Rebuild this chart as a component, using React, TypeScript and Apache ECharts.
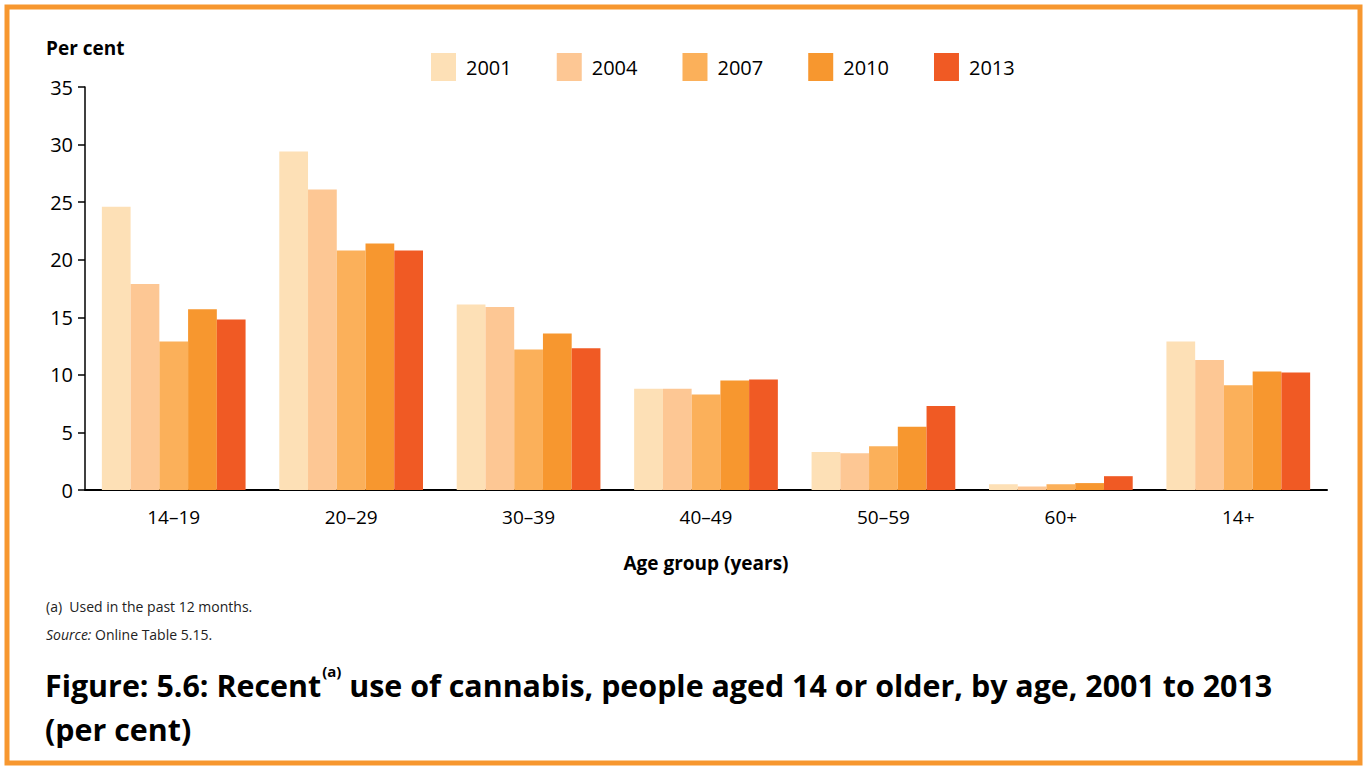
import React, { useEffect, useRef } from "react";
import * as echarts from "echarts";

const categories = ["14–19", "20–29", "30–39", "40–49", "50–59", "60+", "14+"];
const years = ["2001", "2004", "2007", "2010", "2013"];
const v2001 = [24.6, 29.4, 16.1, 8.8, 3.3, 0.5, 12.9];
const v2004 = [17.9, 26.1, 15.9, 8.8, 3.2, 0.3, 11.3];
const v2007 = [12.9, 20.8, 12.2, 8.3, 3.8, 0.5, 9.1];
const v2010 = [15.7, 21.4, 13.6, 9.5, 5.5, 0.6, 10.3];
const v2013 = [14.8, 20.8, 12.3, 9.6, 7.3, 1.2, 10.2];
const seriesValues = [v2001, v2004, v2007, v2010, v2013];
const colors = ["#FDE0B6", "#FDC794", "#FBB05A", "#F7972F", "#F05A24"];
const yTicks = [0, 5, 10, 15, 20, 25, 30, 35];

const FONT = "'Open Sans', sans-serif";

export default function App() {
  const ref = useRef<HTMLDivElement>(null);
  useEffect(() => {
    if (!ref.current) return;
    const chart = echarts.init(ref.current, null, { renderer: "svg" });
    chart.setOption({
      animation: false,
      backgroundColor: "#ffffff",
      textStyle: { fontFamily: FONT, color: "#000" },
      title: [
        {
          text: "Per cent",
          left: 41,
          top: 33,
          textStyle: { fontFamily: FONT, fontSize: 19, fontWeight: "bold", color: "#000" },
        },
        {
          text: "(a)  Used in the past 12 months.",
          left: 41,
          top: 594,
          textStyle: { fontFamily: FONT, fontSize: 14, fontWeight: "normal", color: "#222" },
        },
        {
          text: "{i|Source:} {n|Online Table 5.15.}",
          left: 41,
          top: 622,
          textStyle: {
            fontFamily: FONT,
            fontSize: 14,
            fontWeight: "normal",
            color: "#222",
            rich: {
              i: { fontFamily: FONT, fontSize: 14, fontStyle: "italic", color: "#222" },
              n: { fontFamily: FONT, fontSize: 14, color: "#222" },
            },
          },
        },
        {
          text:
            "{b|Figure: 5.6: Recent}{s|(a)}{b| use of cannabis, people aged 14 or older, by age, 2001 to 2013}\n{b|(per cent)}",
          left: 40,
          top: 658,
          textStyle: {
            fontFamily: FONT,
            fontSize: 30.4,
            fontWeight: "bold",
            color: "#000",
            lineHeight: 44,
            rich: {
              b: { fontFamily: FONT, fontSize: 30.4, fontWeight: "bold", color: "#000", lineHeight: 44 },
              s: {
                fontFamily: FONT,
                fontSize: 15,
                fontWeight: "bold",
                color: "#000",
                verticalAlign: "top",
                padding: [0, 0, 4, 1],
              },
            },
          },
        },
      ],
      legend: {
        data: years,
        left: 426,
        top: 48,
        itemWidth: 25,
        itemHeight: 28,
        itemGap: 45,
        icon: "rect",
        textStyle: { fontFamily: FONT, fontSize: 20, color: "#000", padding: [0, 0, 0, 5] },
      },
      grid: { left: 85, right: 40, top: 87, bottom: 279, containLabel: false },
      xAxis: {
        type: "category",
        data: categories,
        name: "Age group (years)",
        nameLocation: "middle",
        nameGap: 63,
        nameTextStyle: { fontFamily: FONT, fontSize: 19, fontWeight: "bold", color: "#000" },
        axisLine: { show: true, lineStyle: { color: "#000", width: 2 } },
        axisTick: { show: false },
        axisLabel: { fontFamily: FONT, fontSize: 19, color: "#000", margin: 17 },
        splitLine: { show: false },
      },
      yAxis: {
        type: "value",
        min: yTicks[0],
        max: yTicks[yTicks.length - 1],
        interval: 5,
        axisLine: { show: true, lineStyle: { color: "#000", width: 1.5 } },
        axisTick: { show: true, inside: false, length: 7, lineStyle: { color: "#000", width: 1.5 } },
        axisLabel: { fontFamily: FONT, fontSize: 20, color: "#000", margin: 12 },
        splitLine: { show: false },
      },
      series: years.map((y, i) => ({
        name: y,
        type: "bar",
        data: seriesValues[i],
        itemStyle: { color: colors[i] },
        barGap: "0%",
        barCategoryGap: "19%",
      })),
      graphic: [
        {
          type: "rect",
          shape: { x: 7, y: 7, width: 1353, height: 756 },
          style: { fill: "none", stroke: "#F7972F", lineWidth: 5 },
          silent: true,
        },
      ],
    });
    return () => chart.dispose();
  }, []);
  return (
    <div
      ref={ref}
      style={{ position: "fixed", left: 0, top: 0, width: 1367, height: 769 }}
    />
  );
}
